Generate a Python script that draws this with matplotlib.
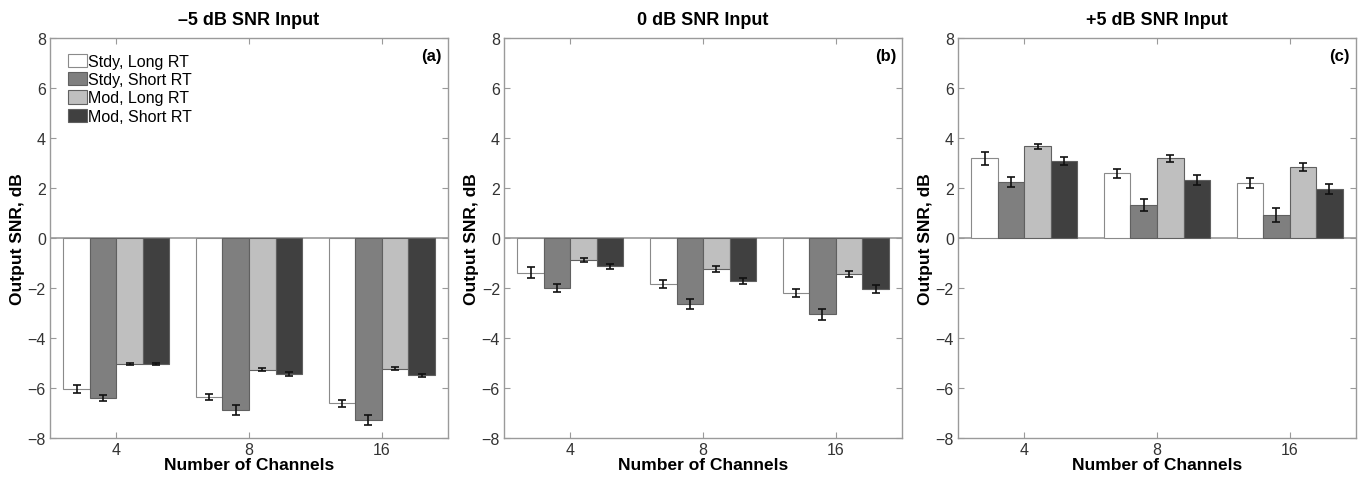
import numpy as np
import matplotlib
matplotlib.use('Agg')
import matplotlib.pyplot as plt
from matplotlib.patches import Patch

plt.rcParams['font.family'] = ['Liberation Sans', 'DejaVu Sans']

channels = ['4', '8', '16']
series_names = ['Stdy, Long RT', 'Stdy, Short RT', 'Mod, Long RT', 'Mod, Short RT']
panel_titles = ['\u20135 dB SNR Input', '0 dB SNR Input', '+5 dB SNR Input']
panel_tags = ['(a)', '(b)', '(c)']

# rows = series, columns = channel counts
snr_m5 = [[-6.03, -6.35, -6.61],
          [-6.39, -6.89, -7.29],
          [-5.03, -5.27, -5.23],
          [-5.03, -5.43, -5.49]]
err_m5 = [[0.15, 0.12, 0.13],
          [0.12, 0.20, 0.20],
          [0.05, 0.06, 0.06],
          [0.05, 0.07, 0.07]]

snr_0 = [[-1.39, -1.83, -2.19],
         [-1.99, -2.64, -3.05],
         [-0.88, -1.23, -1.45],
         [-1.12, -1.72, -2.03]]
err_0 = [[0.22, 0.15, 0.17],
         [0.15, 0.20, 0.22],
         [0.07, 0.12, 0.12],
         [0.10, 0.13, 0.15]]

snr_p5 = [[3.19, 2.59, 2.19],
          [2.23, 1.33, 0.91],
          [3.68, 3.19, 2.85],
          [3.08, 2.33, 1.95]]
err_p5 = [[0.25, 0.18, 0.20],
          [0.20, 0.25, 0.28],
          [0.10, 0.15, 0.17],
          [0.15, 0.20, 0.20]]

bar_colors = ['#ffffff', '#7f7f7f', '#bfbfbf', '#404040']
edge_gray = '#9a9a9a'

fig = plt.figure(figsize=(13.66, 4.81), dpi=100)
lefts = [0.0366, 0.369, 0.7013]
x = np.arange(1, len(channels) + 1)
width = 0.2
offsets = [-0.3, -0.1, 0.1, 0.3]

for p, (vals, errs) in enumerate([(snr_m5, err_m5), (snr_0, err_0), (snr_p5, err_p5)]):
    ax = fig.add_axes([lefts[p], 0.0873, 0.2914, 0.8316])
    for s in range(len(series_names)):
        ax.bar(x + offsets[s], vals[s], width, color=bar_colors[s],
               edgecolor='#8a8a8a' if s == 0 else '#606060', linewidth=0.8, zorder=2)
        ax.errorbar(x + offsets[s], vals[s], yerr=errs[s], fmt='none',
                    ecolor='#111111', elinewidth=1.2, capsize=3, capthick=1.2, zorder=3)
    ax.axhline(0, color=edge_gray, linewidth=1.2, zorder=1)
    ax.set_xlim(0.5, 3.5)
    ax.set_ylim(-8, 8)
    ax.set_xticks(x)
    ax.set_xticklabels(channels)
    ax.set_yticks(np.arange(-8, 9, 2))
    ax.set_yticklabels([str(v).replace('-', '\u2212') for v in range(-8, 9, 2)])
    ax.tick_params(direction='in', top=True, right=True, length=4, color=edge_gray,
                   labelsize=11.5, labelcolor='#333333', pad=3)
    for sp in ax.spines.values():
        sp.set_color(edge_gray)
        sp.set_linewidth(1.0)
    ax.set_title(panel_titles[p], fontsize=13, fontweight='bold', pad=10)
    ax.set_xlabel('Number of Channels', fontsize=12.5, fontweight='bold', labelpad=0)
    ax.set_ylabel('Output SNR, dB', fontsize=12.5, fontweight='bold', labelpad=2)
    ax.text(0.985, 0.975, panel_tags[p], transform=ax.transAxes, ha='right', va='top',
            fontsize=12, fontweight='bold')
    if p == 0:
        handles = [Patch(facecolor=bar_colors[s], edgecolor='#8a8a8a' if s == 0 else '#606060',
                         linewidth=0.8) for s in range(4)]
        ax.legend(handles, series_names, loc='upper left', bbox_to_anchor=(0.02, 0.985),
                  frameon=False, fontsize=11.5, handlelength=1.2, handleheight=0.9,
                  handletextpad=0.1, labelspacing=0.2, borderaxespad=0.2)

fig.savefig('out.png', dpi=100)
